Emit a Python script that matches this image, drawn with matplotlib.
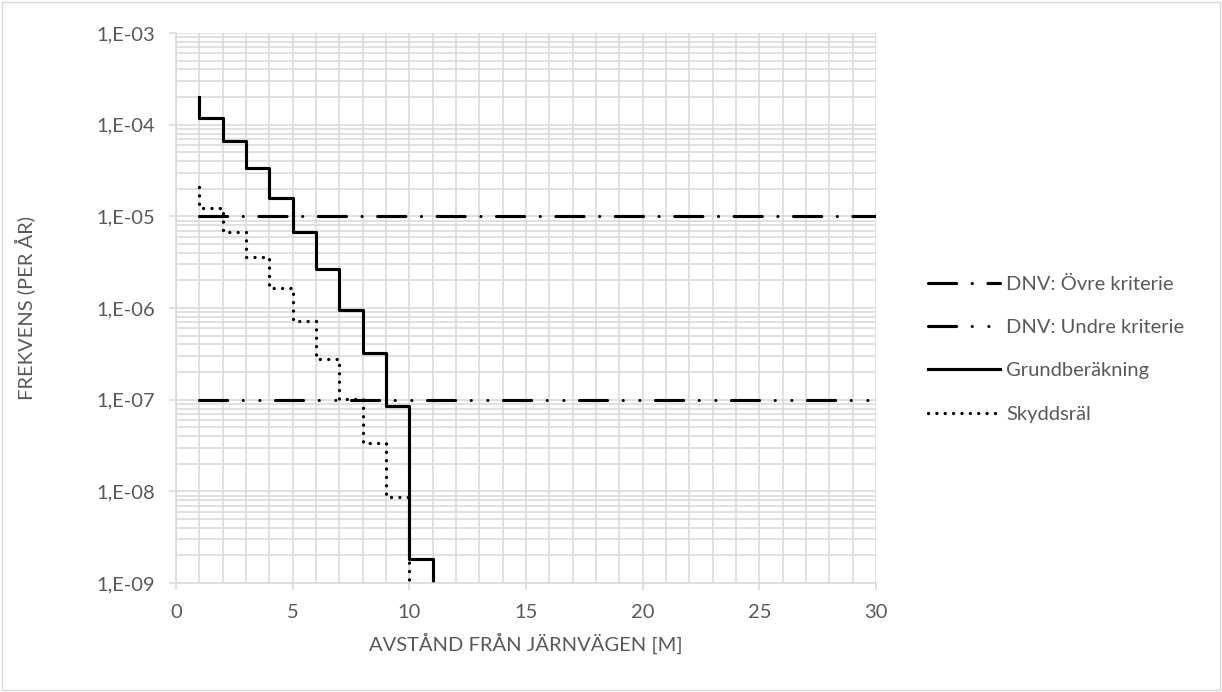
import numpy as np
import matplotlib.pyplot as plt
from matplotlib.ticker import FuncFormatter, MultipleLocator, LogLocator

# Data
avstand = [1, 1, 2, 3, 4, 5, 6, 7, 8, 9, 10, 11]
grund = [2.0e-4, 1.18e-4, 6.6e-5, 3.4e-5, 1.6e-5, 6.8e-6, 2.67e-6, 9.5e-7, 3.2e-7, 8.5e-8, 1.83e-9, 1e-11]
avstand_skydd = [1, 1, 2, 3, 4, 5, 6, 7, 8, 9, 10]
skydd = [2.1e-5, 1.24e-5, 6.8e-6, 3.57e-6, 1.67e-6, 7.3e-7, 2.78e-7, 1.02e-7, 3.34e-8, 8.75e-9, 1e-11]
krit_x = [1, 30]
ovre = [1e-5, 1e-5]
undre = [1e-7, 1e-7]

grid_col = '#d9d9d9'
txt_col = '#595959'
fs = 14.5
plt.rcParams['font.family'] = ['Lato', 'DejaVu Sans']

fig = plt.figure(figsize=(12.22, 6.92), dpi=100)
ax = fig.add_axes([176/1222, 1-583/692, 700/1222, 550/692])
fig.patches.append(plt.Rectangle((0.002, 0.003), 0.996, 0.994, transform=fig.transFigure,
                                 fill=False, edgecolor=grid_col, lw=1))

lw = 2.25
ax.plot(krit_x, ovre, color='black', lw=lw, dash_capstyle='round',
        linestyle=(0, (9, 5, 0.01, 5)), label='DNV: Övre kriterie')
ax.plot(krit_x, undre, color='black', lw=lw, dash_capstyle='round',
        linestyle=(0, (9, 5, 0.01, 5.3, 0.01, 5)), label='DNV: Undre kriterie')
ax.plot(avstand, grund, color='black', lw=lw, drawstyle='steps-post', label='Grundberäkning')
ax.plot(avstand_skydd, skydd, color='black', lw=2.4, drawstyle='steps-post',
        dash_capstyle='round', linestyle=(0, (0.01, 2.5)), label='Skyddsräl')

ax.set_yscale('log')
ax.set_xlim(0, 30)
ax.set_ylim(1e-9, 1e-3)
ax.xaxis.set_major_locator(MultipleLocator(5))
ax.xaxis.set_minor_locator(MultipleLocator(1))
ax.yaxis.set_major_locator(LogLocator(base=10, numticks=10))
ax.yaxis.set_minor_locator(LogLocator(base=10, subs=np.arange(2, 10), numticks=20))
ax.yaxis.set_major_formatter(FuncFormatter(lambda v, p: '1,E-%02d' % round(-np.log10(v))))

ax.grid(True, which='both', color=grid_col, lw=1.1)
ax.set_axisbelow(True)
for s in ['top', 'right']:
    ax.spines[s].set_visible(False)
for s in ['left', 'bottom']:
    ax.spines[s].set_color(grid_col)
    ax.spines[s].set_linewidth(1.1)
ax.tick_params(which='major', length=5, width=1.1, color=grid_col, labelcolor=txt_col, labelsize=fs)
ax.tick_params(axis='y', pad=10)
ax.tick_params(axis='x', pad=10)
ax.tick_params(which='minor', length=0)

ax.set_xlabel('AVSTÅND FRÅN JÄRNVÄGEN [M]', color=txt_col, fontsize=fs)
ax.set_ylabel('FREKVENS (PER ÅR)', color=txt_col, fontsize=fs)
ax.xaxis.set_label_coords(0.5, -0.091)
ax.yaxis.set_label_coords(-0.201, 0.5)

ax.legend(loc='center left', bbox_to_anchor=(1.074, 0.425), frameon=False, fontsize=fs,
          handlelength=3.6, handletextpad=0.3, labelspacing=1.3, borderpad=0,
          borderaxespad=0, labelcolor=txt_col)

fig.savefig('out.png', dpi=100)
